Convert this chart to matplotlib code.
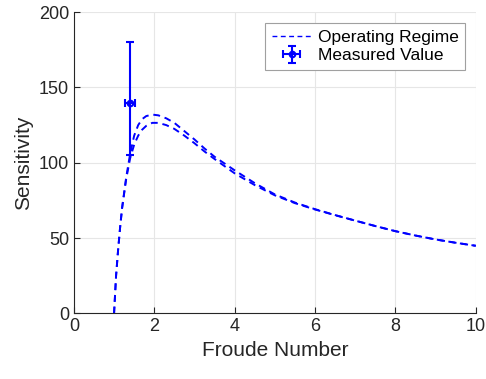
import matplotlib.pyplot as plt

plt.rcParams['font.family'] = ['Liberation Sans', 'DejaVu Sans']

# operating regime curves (upper / lower bound)
fr = [1.0, 1.05, 1.1, 1.15, 1.2, 1.3, 1.4, 1.5, 1.6, 1.7, 1.8, 1.95, 2.1, 2.3, 2.5, 2.75,
      3.0, 3.25, 3.5, 4.0, 4.5, 5.0, 5.5, 6.0, 6.5, 7.0, 7.5, 8.0, 8.5, 9.0, 9.5, 10.0]
sens_hi = [0, 25, 42, 57, 70, 90, 106, 118, 125, 129, 131, 132, 131.5, 129.5, 126.5, 121,
           115.5, 109.5, 104, 95, 86.5, 79, 73.6, 69.2, 65.3, 61.6, 58.0, 54.6, 51.7, 49.1, 46.9, 44.9]
sens_lo = [0, 25, 42, 57, 70, 89, 103, 112, 118, 122, 124.5, 126.5, 126.5, 125, 122.5, 118,
           113, 107.5, 102.5, 93, 85.2, 78.4, 73.2, 69.0, 65.2, 61.6, 58.0, 54.6, 51.7, 49.1, 46.9, 44.9]

# measured point
meas_x = 1.4
meas_y = 140
meas_yerr = [[35], [40]]
meas_xerr = 0.13

fig = plt.figure(figsize=(4.86, 3.79), dpi=100)
ax = fig.add_axes([0.152, 0.173, 0.827, 0.795])

ax.plot(fr, sens_hi, color='b', lw=1.4, ls=(0, (3.5, 2.5)), label='Operating Regime')
ax.plot(fr, sens_lo, color='b', lw=1.4, ls=(0, (3.5, 2.5)))
ax.errorbar(meas_x, meas_y, yerr=meas_yerr, xerr=meas_xerr, fmt='o', color='b',
            ms=4, mfc='none', mew=1.5, elinewidth=1.5, capsize=3, capthick=1.5,
            label='Measured Value')

ax.set_xlim(0, 10)
ax.set_ylim(0, 200)
ax.set_xticks([0, 2, 4, 6, 8, 10])
ax.set_yticks([0, 50, 100, 150, 200])
ax.grid(True, color='#e6e6e6', lw=0.8)
ax.set_axisbelow(True)
for s in ['top', 'right']:
    ax.spines[s].set_visible(False)
for s in ['left', 'bottom']:
    ax.spines[s].set_color('#262626')
ax.tick_params(direction='in', labelsize=13, colors='#262626', length=4)
ax.set_xlabel('Froude Number', fontsize=15, color='#262626')
ax.set_ylabel('Sensitivity', fontsize=15, color='#262626')

leg = ax.legend(loc='upper right', fontsize=12.5, fancybox=False, framealpha=1,
                edgecolor='#a0a0a0', handlelength=2.2, borderaxespad=0.6,
                labelspacing=0.2, handletextpad=0.4)
leg.get_frame().set_linewidth(0.8)
leg.get_lines()[0].set_linewidth(1.0)

fig.savefig('out.png', dpi=100)
